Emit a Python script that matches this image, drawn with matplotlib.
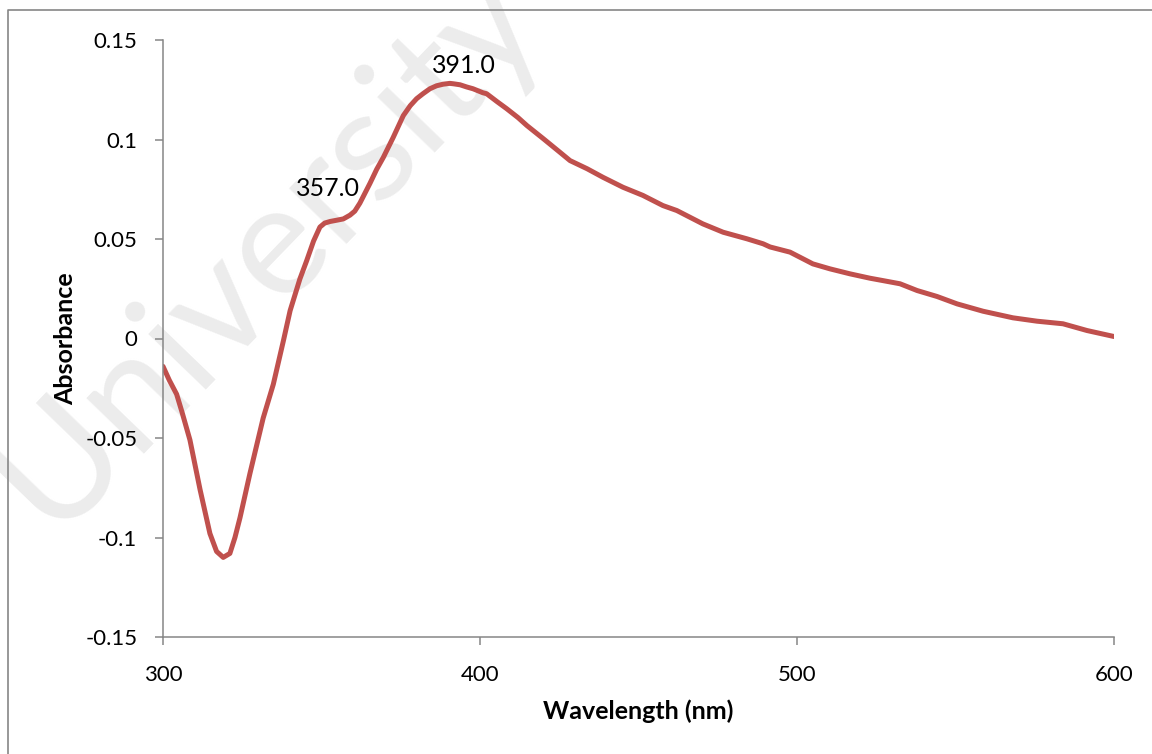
import numpy as np
import matplotlib
matplotlib.use("Agg")
import matplotlib.pyplot as plt
from matplotlib.lines import Line2D

# Spectrum
wavelength = [300.0, 302.0, 304.3, 306.0, 308.5, 311.7, 314.8, 316.9, 319.0, 321.1,
              322.7, 324.3, 327.4, 329.5, 331.6, 334.8, 338.0, 340.1, 343.2, 345.3,
              347.5, 349.5, 351.0, 352.7, 355.0, 356.9, 359.0, 360.5, 362.1, 363.7,
              365.3, 367.4, 369.5, 372.6, 375.8, 378.0, 380.0, 382.0, 384.2, 386.3,
              388.4, 390.5, 391.6, 393.7, 395.8, 397.8, 400.9, 402.1, 405.4, 408.4,
              412.0, 414.8, 419.9, 425.2, 428.4, 433.8, 438.8, 445.1, 451.4, 457.7,
              462.1, 470.3, 476.7, 484.2, 489.3, 491.5, 497.8, 505.0, 510.4, 516.7,
              523.0, 527.1, 532.5, 537.9, 544.2, 550.5, 558.7, 568.1, 575.7, 583.9,
              591.5, 600.0]
absorbance = [-0.014, -0.021, -0.028, -0.037, -0.051, -0.076, -0.098, -0.107, -0.110, -0.108,
              -0.100, -0.090, -0.068, -0.054, -0.040, -0.023, -0.001, 0.014, 0.030, 0.039,
              0.049, 0.056, 0.058, 0.0588, 0.0595, 0.0601, 0.062, 0.064, 0.068, 0.073,
              0.078, 0.085, 0.091, 0.101, 0.112, 0.117, 0.1205, 0.123, 0.1255, 0.127,
              0.1278, 0.1282, 0.128, 0.1275, 0.1264, 0.1255, 0.1235, 0.123, 0.119, 0.1155,
              0.111, 0.107, 0.1005, 0.0936, 0.0894, 0.0853, 0.081, 0.076, 0.0719, 0.0668,
              0.0643, 0.0576, 0.0534, 0.0501, 0.0476, 0.046, 0.0434, 0.0375, 0.035, 0.0325,
              0.0303, 0.0291, 0.0275, 0.0241, 0.0211, 0.0174, 0.0137, 0.0104, 0.0087, 0.0074,
              0.004, 0.001]

# labelled peaks and where their labels sit (offset in points)
peak_wl = [357.0, 391.0]
peak_offsets = [(-11, 22), (9, 13)]

xticks = [300, 400, 500, 600]
yticks = [-0.15, -0.1, -0.05, 0, 0.05, 0.1, 0.15]
ytick_labels = ["-0.15", "-0.1", "-0.05", "0", "0.05", "0.1", "0.15"]

plt.rcParams['font.family'] = ['Lato', 'DejaVu Sans']

fig = plt.figure(figsize=(11.52, 7.54), dpi=100)
ax = fig.add_axes([163/1152, 1 - 637/754, (1114 - 163)/1152, (637 - 40)/754])
ax.patch.set_facecolor('none')

# watermark behind everything
fig.text(0.232, 0.67, "University", fontsize=114, color='#ececec',
         rotation=46, ha='center', va='center', zorder=-5)

# outer chart frame (only left and top edges fall inside the image)
fx = 8/1152
fy = 1 - 10/754
fig.add_artist(Line2D([fx, fx, 1.0], [0.0, fy, fy], color='#868686', lw=1.2,
                      transform=fig.transFigure))

ax.plot(wavelength, absorbance, color='#c0504d', lw=3.6, solid_capstyle='round')

for wl, off in zip(peak_wl, peak_offsets):
    a = np.interp(wl, wavelength, absorbance)
    ax.annotate("%.1f" % wl, xy=(wl, a), xytext=off, textcoords='offset points',
                ha='center', va='center', fontsize=18)

ax.set_xlim(300, 600)
ax.set_ylim(-0.15, 0.15)
ax.set_xticks(xticks)
ax.set_yticks(yticks)
ax.set_yticklabels(ytick_labels)

for s in ['top', 'right']:
    ax.spines[s].set_visible(False)
for s in ['left', 'bottom']:
    ax.spines[s].set_color('#868686')
    ax.spines[s].set_linewidth(1.1)
ax.tick_params(axis='both', direction='out', length=5.5, width=1.1, color='#868686',
               labelsize=16)
ax.tick_params(axis='x', pad=15)
ax.tick_params(axis='y', pad=13)

ax.set_xlabel('Wavelength (nm)', fontsize=18, fontweight='bold', labelpad=10)
ax.set_ylabel('Absorbance', fontsize=18, fontweight='bold', labelpad=6)

fig.savefig('out.png', dpi=100)
